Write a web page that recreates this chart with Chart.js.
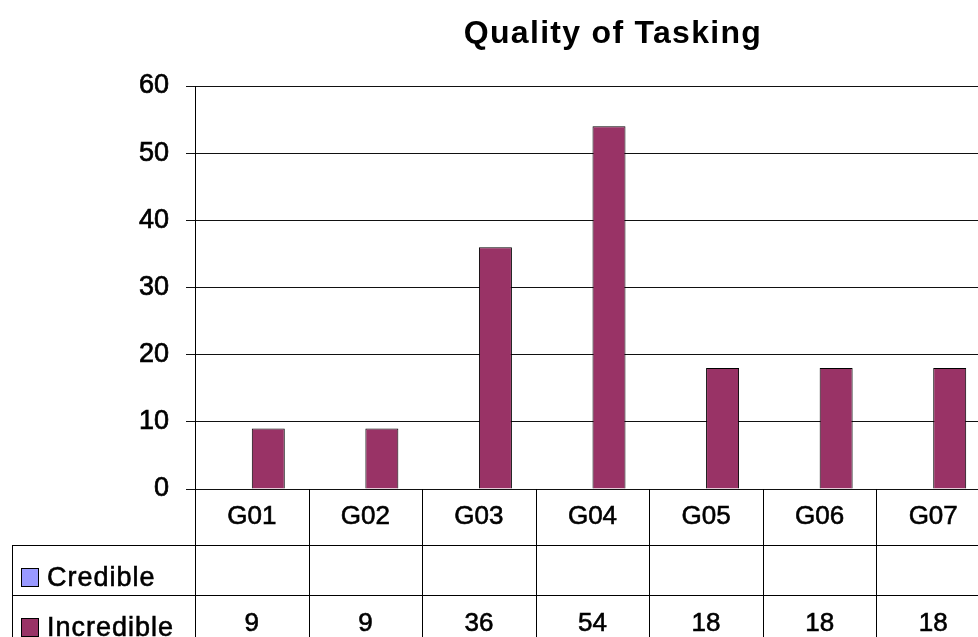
<!DOCTYPE html>
<html>
<head>
<meta charset="utf-8">
<script src="https://cdn.jsdelivr.net/npm/chart.js@4/dist/chart.umd.min.js"></script>
<style>
html,body{margin:0;padding:0;background:#fff;overflow:hidden;}
#wrap{position:relative;width:978px;height:637px;overflow:hidden;}
#box{position:absolute;left:0;top:0;width:1000px;height:637px;}
</style>
</head>
<body>
<div id="wrap"><div id="box"><canvas id="c"></canvas></div></div>
<script>
const categories = ['G01','G02','G03','G04','G05','G06','G07'];
const credible = [null,null,null,null,null,null,null];
const incredible = [9,9,36,54,18,18,18];
const yTicks = [0,10,20,30,40,50,60];
const seriesNames = ['Credible','Incredible'];
const seriesColors = ['#9999FF','#993366'];
const chartTitle = 'Quality of Tasking';

const FONT = '"Liberation Sans", Arial, sans-serif';

const tablePlugin = {
  id: 'tablePlugin',
  afterDraw(chart) {
    const ctx = chart.ctx;
    const xs = chart.scales.x;
    const ca = chart.chartArea;
    const n = categories.length;
    const w = (ca.right - ca.left) / n;
    const row1Top = ca.bottom;       // category row
    const row2Top = row1Top + 56;    // Credible
    const row3Top = row2Top + 50;    // Incredible
    const bottom = chart.height + 20;
    const leftEdge = 12;
    ctx.save();
    ctx.strokeStyle = '#000';
    ctx.lineWidth = 1;
    const hl = (x1, x2, y) => { ctx.beginPath(); ctx.moveTo(x1, Math.round(y)+0.5); ctx.lineTo(x2, Math.round(y)+0.5); ctx.stroke(); };
    const vl = (x, y1, y2) => { ctx.beginPath(); ctx.moveTo(Math.round(x)+0.5, y1); ctx.lineTo(Math.round(x)+0.5, y2); ctx.stroke(); };
    hl(leftEdge, ca.right, row2Top);
    hl(leftEdge, ca.right, row3Top);
    vl(leftEdge, row2Top, bottom);
    for (let i = 0; i <= n; i++) {
      vl(ca.left + i * w, row1Top, bottom);
    }
    const txt = (s, x, y) => { ctx.lineWidth = 0.6; ctx.strokeStyle = '#000'; ctx.strokeText(s, x, y); ctx.fillText(s, x, y); };
    ctx.fillStyle = '#000';
    ctx.textAlign = 'center';
    ctx.textBaseline = 'alphabetic';
    ctx.font = '26px ' + FONT;
    for (let i = 0; i < n; i++) {
      const cx = xs.getPixelForValue(i);
      txt(categories[i], cx, row1Top + 35);
      if (credible[i] !== null) txt(String(credible[i]), cx, row2Top + 36);
      if (incredible[i] !== null) txt(String(incredible[i]), cx, row3Top + 36);
    }
    // legend keys
    const rows = [row2Top, row3Top];
    ctx.textAlign = 'left';
    ctx.font = '27px ' + FONT;
    try { ctx.letterSpacing = '1px'; } catch (e) {}
    for (let k = 0; k < 2; k++) {
      const top = rows[k];
      ctx.fillStyle = seriesColors[k];
      ctx.fillRect(21, top + 23, 18, 19);
      ctx.lineWidth = 1;
      ctx.strokeStyle = '#000';
      ctx.strokeRect(21.5, top + 23.5, 17, 18);
      ctx.fillStyle = '#000';
      txt(seriesNames[k], 47, top + 41);
    }
    // title
    ctx.textAlign = 'center';
    ctx.font = 'bold 32px ' + FONT;
    try { ctx.letterSpacing = '1.3px'; } catch (e) {}
    ctx.fillText(chartTitle, 613, 43);
    ctx.restore();
  }
};

new Chart(document.getElementById('c'), {
  type: 'bar',
  data: {
    labels: categories,
    datasets: [
      { label: seriesNames[0], data: credible, backgroundColor: seriesColors[0], borderColor: '#000', borderWidth: 1 },
      { label: seriesNames[1], data: incredible, backgroundColor: seriesColors[1], borderColor: '#000', borderWidth: 1 }
    ]
  },
  options: {
    responsive: true,
    maintainAspectRatio: false,
    animation: false,
    events: [],
    layout: { padding: { left: 0, right: 10, top: 86, bottom: 0 } },
    datasets: { bar: { categoryPercentage: 0.581, barPercentage: 1.0 } },
    plugins: { legend: { display: false }, title: { display: false }, tooltip: { enabled: false } },
    scales: {
      x: {
        grid: { display: false },
        border: { display: false },
        ticks: { display: false },
        afterFit(scale) { scale.height = 148; }
      },
      y: {
        min: 0, max: 60,
        afterBuildTicks(scale) { scale.ticks = yTicks.map(v => ({ value: v })); },
        ticks: { color: '#000', font: { family: FONT, size: 27 }, padding: 17, textStrokeColor: '#000', textStrokeWidth: 0.7 },
        grid: { color: '#111', lineWidth: 1, tickLength: 9, drawTicks: true },
        border: { display: true, color: '#000', width: 1 },
        afterFit(scale) { scale.width = 195; }
      }
    }
  },
  plugins: [tablePlugin]
});
</script>
</body>
</html>
